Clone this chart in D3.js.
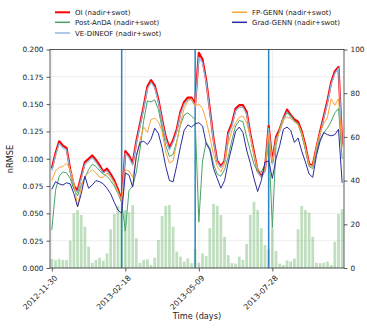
<!DOCTYPE html>
<html><head><meta charset="utf-8">
<script src="https://cdn.jsdelivr.net/npm/d3@7"></script>
<style>body{margin:0;background:#fff}svg{display:block;font-family:"DejaVu Sans",sans-serif}</style>
</head><body><svg id="c" width="367" height="328"></svg>
<script>
// ---- data ----
const startDate = "2012-11-30";
const stepDays = 4;
const tickLabels = ["2012-11-30","2013-02-18","2013-05-09","2013-07-28"];
const eventDates = ["2013-02-14","2013-05-05","2013-07-24"];
const seriesNames = ["OI (nadir+swot)","Post-AnDA (nadir+swot)","VE-DINEOF (nadir+swot)","FP-GENN (nadir+swot)","Grad-GENN (nadir+swot)"];
const oi = [0.091,0.105,0.116,0.112,0.110,0.090,0.075,0.071,0.084,0.097,
 0.100,0.103,0.099,0.094,0.088,0.091,0.086,0.080,0.072,0.062,
 0.107,0.103,0.096,0.116,0.132,0.148,0.166,0.172,0.167,0.154,
 0.136,0.120,0.110,0.117,0.127,0.143,0.152,0.156,0.156,0.150,
 0.197,0.191,0.172,0.145,0.118,0.098,0.093,0.098,0.124,0.132,
 0.146,0.149,0.149,0.143,0.123,0.106,0.089,0.084,0.090,0.130,
 0.097,0.120,0.127,0.137,0.145,0.140,0.136,0.134,0.125,0.112,
 0.095,0.094,0.110,0.125,0.139,0.153,0.170,0.180,0.184,0.113];
const postAnDA = [0.035,0.071,0.084,0.088,0.087,0.082,0.072,0.066,0.076,0.083,
 0.090,0.095,0.093,0.089,0.086,0.084,0.080,0.075,0.068,0.060,
 0.034,0.071,0.075,0.088,0.109,0.135,0.153,0.152,0.154,0.145,
 0.128,0.112,0.102,0.104,0.116,0.131,0.140,0.142,0.139,0.136,
 0.042,0.098,0.115,0.110,0.095,0.086,0.084,0.090,0.102,0.117,
 0.130,0.135,0.134,0.120,0.107,0.095,0.088,0.088,0.095,0.118,
 0.037,0.112,0.128,0.138,0.142,0.140,0.135,0.132,0.122,0.108,
 0.093,0.091,0.106,0.118,0.124,0.128,0.134,0.142,0.146,0.100];
const veDineof = [0.089,0.103,0.114,0.110,0.108,0.088,0.073,0.069,0.082,0.095,
 0.098,0.101,0.097,0.092,0.087,0.089,0.084,0.078,0.070,0.061,
 0.105,0.101,0.094,0.114,0.130,0.146,0.164,0.170,0.165,0.152,
 0.134,0.118,0.108,0.115,0.125,0.141,0.150,0.154,0.154,0.148,
 0.193,0.188,0.170,0.143,0.116,0.097,0.092,0.097,0.122,0.130,
 0.144,0.147,0.147,0.141,0.121,0.104,0.088,0.083,0.089,0.128,
 0.095,0.118,0.125,0.135,0.143,0.138,0.134,0.132,0.123,0.110,
 0.094,0.093,0.108,0.123,0.137,0.151,0.168,0.178,0.183,0.111];
const fpGenn = [0.080,0.089,0.092,0.093,0.096,0.090,0.078,0.056,0.074,0.084,
 0.087,0.090,0.087,0.083,0.083,0.087,0.083,0.078,0.068,0.062,
 0.090,0.089,0.083,0.101,0.117,0.129,0.124,0.136,0.137,0.134,
 0.125,0.106,0.096,0.098,0.115,0.133,0.146,0.153,0.155,0.148,
 0.150,0.146,0.135,0.120,0.104,0.093,0.088,0.095,0.114,0.126,
 0.133,0.138,0.139,0.133,0.120,0.104,0.091,0.087,0.090,0.122,
 0.098,0.115,0.126,0.137,0.138,0.137,0.134,0.131,0.124,0.110,
 0.094,0.093,0.111,0.124,0.132,0.138,0.155,0.149,0.155,0.110];
const gradGenn = [0.072,0.079,0.077,0.076,0.078,0.077,0.068,0.056,0.068,0.084,
 0.073,0.076,0.080,0.079,0.077,0.073,0.068,0.060,0.053,0.050,
 0.087,0.085,0.074,0.103,0.115,0.116,0.113,0.118,0.128,0.123,
 0.110,0.093,0.080,0.079,0.094,0.111,0.126,0.131,0.129,0.132,
 0.133,0.130,0.114,0.108,0.091,0.082,0.073,0.080,0.097,0.111,
 0.125,0.129,0.124,0.108,0.096,0.082,0.070,0.080,0.097,0.098,
 0.082,0.100,0.112,0.127,0.129,0.126,0.115,0.119,0.107,0.097,
 0.086,0.083,0.103,0.116,0.124,0.122,0.121,0.122,0.127,0.078];
const barValues = [4.1,3.7,4.1,3.7,3.7,12.5,25,26.5,24.3,18.9,
 9.8,2.4,3.7,4.7,3.4,6.7,17.7,24.7,28.5,25,
 26.5,25.5,28.8,13.6,2.4,3.7,4.0,1.4,4.7,12.8,
 23.8,28.4,28.8,18.9,7.5,5.2,2.9,4.4,2.2,8.7,
 2.4,6.7,5.5,18.2,29.3,28.4,24.3,14.3,5.9,2.2,
 2.0,5.2,3.7,11,24.3,30.3,26.5,18.2,10.5,8.5,
 18.2,7.8,2.0,1.4,3.5,3.0,4.3,17.7,28.4,26.5,
 25.3,14.3,2.4,2.2,2.4,3.0,1.4,12,24.7,26.9];
const leftTicks = [0,0.025,0.05,0.075,0.1,0.125,0.15,0.175,0.2];
const rightTicks = [0,20,40,60,80,100];

// ---- chart ----
const DAY = 86400000;
const t0 = new Date(startDate + "T00:00:00Z");
const dates = oi.map((d,i)=> new Date(t0.getTime() + i*stepDays*DAY));
const parse = s => new Date(s + "T00:00:00Z");
const L=50, R=344, T=49.5, B=268;
const svg = d3.select("#c");
const x = d3.scaleUtc().domain([new Date(t0.getTime()-2*DAY), new Date(t0.getTime()+318*DAY)]).range([L,R]);
const yL = d3.scaleLinear().domain([0,0.2]).range([B,T]);
const yR = d3.scaleLinear().domain([0,100]).range([B,T]);

// grid
svg.append("g").selectAll("line").data(leftTicks).join("line")
 .attr("x1",L).attr("x2",R).attr("y1",d=>yL(d)).attr("y2",d=>yL(d))
 .attr("stroke","#e8e8e8").attr("stroke-width",0.8);
svg.append("g").selectAll("line").data(tickLabels).join("line")
 .attr("x1",d=>x(parse(d))).attr("x2",d=>x(parse(d))).attr("y1",T).attr("y2",B)
 .attr("stroke","#e8e8e8").attr("stroke-width",0.8);

// bars
const bw = x(new Date(t0.getTime()+3*DAY)) - x(t0);
svg.append("g").selectAll("rect").data(barValues).join("rect")
 .attr("x",(d,i)=>x(dates[i])-bw/2).attr("width",bw)
 .attr("y",d=>yR(d)).attr("height",d=>B-yR(d))
 .attr("fill","green").attr("fill-opacity",0.25);

// event lines
svg.append("g").selectAll("line").data(eventDates).join("line")
 .attr("x1",d=>x(parse(d))).attr("x2",d=>x(parse(d))).attr("y1",T).attr("y2",B)
 .attr("stroke","#2a85c0").attr("stroke-width",1.5);

// series
const series = [
 {name:seriesNames[0], vals:oi, color:"#ff0000", w:2.2},
 {name:seriesNames[1], vals:postAnDA, color:"#47a468", w:1},
 {name:seriesNames[2], vals:veDineof, color:"#8fb8dc", w:1.2},
 {name:seriesNames[3], vals:fpGenn, color:"#ffa238", w:1},
 {name:seriesNames[4], vals:gradGenn, color:"#2a2aa0", w:1}
];
const line = v => d3.line().x((d,i)=>x(dates[i])).y(d=>yL(d))(v);
const draw = [series[0],series[2],series[1],series[3],series[4]];
svg.append("g").selectAll("path").data(draw).join("path")
 .attr("d",s=>line(s.vals)).attr("fill","none")
 .attr("stroke",s=>s.color).attr("stroke-width",s=>s.w).attr("stroke-linejoin","round");

// axes
const axL = svg.append("g").attr("transform",`translate(${L},0)`)
 .call(d3.axisLeft(yL).tickValues(leftTicks).tickFormat(d3.format(".3f")).tickSize(3.5).tickPadding(3));
const axR = svg.append("g").attr("transform",`translate(${R},0)`)
 .call(d3.axisRight(yR).tickValues(rightTicks).tickSize(3.5).tickPadding(3));
const axB = svg.append("g").attr("transform",`translate(0,${B})`)
 .call(d3.axisBottom(x).tickValues(tickLabels.map(parse)).tickFormat(d3.utcFormat("%Y-%m-%d")).tickSize(3.5));
[axL,axR,axB].forEach(a=>{
 a.selectAll(".domain").remove();
 a.selectAll("line").attr("stroke","#333").attr("stroke-width",0.8);
 a.selectAll("text").attr("font-size",7.3).attr("fill","#222").attr("font-family","DejaVu Sans");
});
axB.selectAll("text").attr("text-anchor","end").attr("dy",0).attr("font-size",7.7)
 .attr("transform","translate(1,6) rotate(-45)");
svg.append("rect").attr("x",L).attr("y",T).attr("width",R-L).attr("height",B-T)
 .attr("fill","none").attr("stroke","#333").attr("stroke-width",0.8);

// labels
svg.append("text").attr("x",197).attr("y",319).attr("text-anchor","middle")
 .attr("font-size",8.2).attr("fill","#222").text("Time (days)");
svg.append("text").attr("transform","translate(13,159) rotate(-90)").attr("text-anchor","middle")
 .attr("font-size",8.2).attr("fill","#222").text("nRMSE");

// legend
const legPos = [[55,12.3],[55,22.3],[55,33],[232,12.3],[232,22.3]];
const lg = svg.append("g").selectAll("g").data(series).join("g")
 .attr("transform",(s,i)=>`translate(${legPos[i][0]},${legPos[i][1]})`);
lg.append("line").attr("x1",0).attr("x2",15).attr("stroke",s=>s.color).attr("stroke-width",s=>s.w===2.2?2:1.5);
lg.append("text").attr("x",20).attr("y",2.5).attr("font-size",7).attr("fill","#222").text(s=>s.name);
</script></body></html>
